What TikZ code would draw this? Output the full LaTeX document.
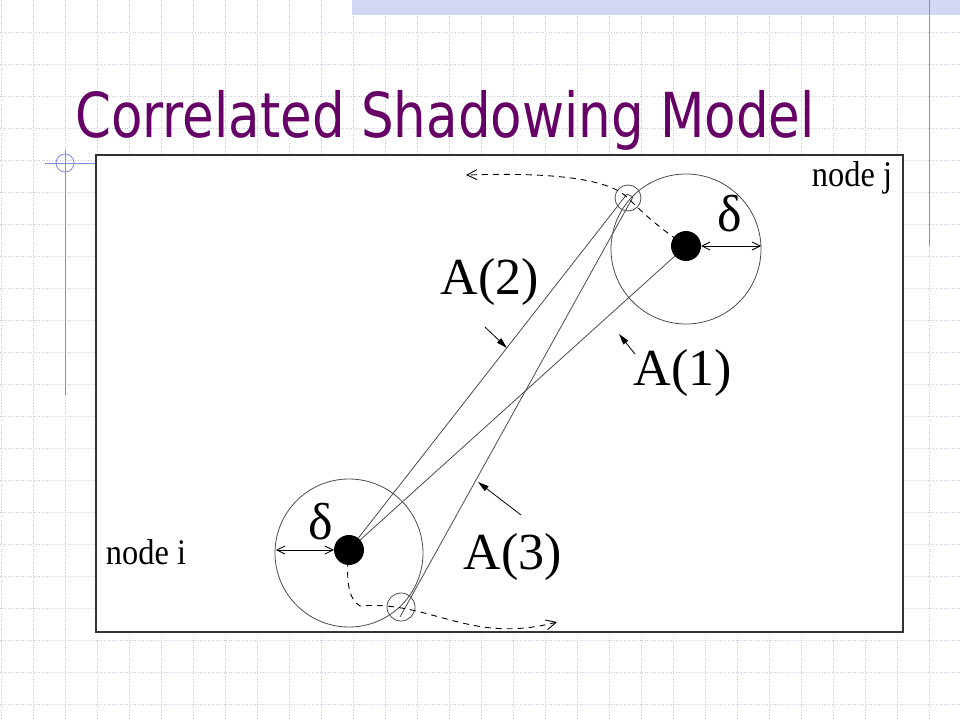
\documentclass[tikz,border=0pt]{standalone}
\usepackage{fontspec}
\setmainfont{Liberation Serif}
\newfontfamily\titlefont{DejaVu Sans}
\usetikzlibrary{arrows.meta}
\definecolor{titlepurple}{HTML}{660066}
\definecolor{gridblue}{HTML}{C8C8E8}
\definecolor{lineblue}{HTML}{7F8FE0}
\begin{document}
\begin{tikzpicture}[x=1pt,y=-1pt,
  thin/.style={line width=0.8pt,draw=black!70},
  dsh/.style={line width=0.9pt,dash pattern=on 6pt off 5pt,black},
  lbl/.style={font=\fontsize{52}{52}\selectfont,inner sep=0pt},
  nlbl/.style={font=\fontsize{36}{36}\selectfont,inner sep=0pt,xscale=0.9},
  ptr/.style={line width=0.8pt,-{Triangle[length=11pt,width=6pt]}},
  dl/.style={line width=0.8pt,{Straight Barb[length=8pt,width=8pt]}-{Straight Barb[length=8pt,width=8pt]}}]
\useasboundingbox (0,0) rectangle (960,720);
\fill[white] (0,0) rectangle (960,720);
% grid
\foreach \x in {1,33,...,960} \draw[gridblue,line width=0.6pt,dotted] (\x,0) -- (\x,720);
\foreach \y in {32,64,...,720} \draw[gridblue,line width=0.6pt,dotted] (0,\y) -- (960,\y);
% decorations
\fill[lineblue!35] (352,0) rectangle (960,15);
\draw[lineblue,line width=1pt] (929,0) -- (929,246);
\draw[lineblue,line width=1pt] (65,150) -- (65,395);
\draw[lineblue,line width=1pt] (45,163) -- (96,163);
\draw[lineblue,line width=0.8pt] (65,163) circle (9);
% title
\node[anchor=base west,inner sep=0pt,text=titlepurple,font=\titlefont\fontsize{62}{62}\selectfont,xscale=0.83] (title) at (75,137) {Correlated Shadowing Model};
% box
\draw[fill=white,draw=black!80,line width=1.3pt] (96,155) rectangle (903,632);
\begin{scope}
\clip (96,155) rectangle (903,632);
\node[circle,draw,thin,minimum size=150pt,inner sep=0pt] (cj) at (686,249) {};
\node[circle,draw,thin,minimum size=148pt,inner sep=0pt] (ci) at (349,553) {};
\node[circle,draw,thin,minimum size=26pt,inner sep=0pt] (sj) at (628,198) {};
\node[circle,draw,thin,minimum size=28pt,inner sep=0pt] (si) at (401,607) {};
\coordinate (pj1) at (627,194);
\coordinate (pj2) at (633,197);
\coordinate (pi) at (400,617);
\coordinate (cdi) at (349,550);
\coordinate (cdj) at (686,246);
\draw[thin] (cdi) -- (cdj);
\draw[thin] (cdi) -- (pj1);
\draw[thin] (pi) -- (pj2);
\draw[thin] (pj1) -- (pj2);
% dashed paths
\coordinate (ej) at (466,175);
\coordinate (ei) at (557,622);
\draw[dsh,-{Straight Barb[length=10pt,width=10pt]}] (cdj) .. controls (655,225) and (640,210) .. (628,198) .. controls (610,180) and (560,172) .. (ej);
\draw[dsh,-{Straight Barb[length=10pt,width=10pt]}] (cdi) .. controls (345,585) and (350,600) .. (360,606) .. controls (430,600) and (470,645) .. (ei);
\node[circle,fill=black,minimum size=30pt,inner sep=0pt] (dj) at (cdj) {};
\node[circle,fill=black,minimum size=30pt,inner sep=0pt] (di) at (cdi) {};
% delta arrows
\coordinate (dje) at (761,246);
\coordinate (die) at (276,550);
\draw[dl] (dj.east) -- (dje);
\draw[dl] (die) -- (di.west);
\end{scope}
\node[lbl] (dlj) at (730,214) {δ};
\node[lbl] (dli) at (321,522) {δ};
\node[nlbl] (nj) at (852,178) {node j};
\node[nlbl] (ni) at (146,552) {node i};
\node[lbl] (a2) at (490,282) {A(2)};
\node[lbl] (a1) at (683,373) {A(1)};
\node[lbl] (a3) at (513,557) {A(3)};
\coordinate (t2) at (507,348);
\coordinate (t1) at (619,334);
\coordinate (t3) at (478,482);
\draw[ptr] (485,327) -- (t2);
\draw[ptr] (635,354) -- (t1);
\draw[ptr] (521,515) -- (t3);
\end{tikzpicture}
\end{document}
